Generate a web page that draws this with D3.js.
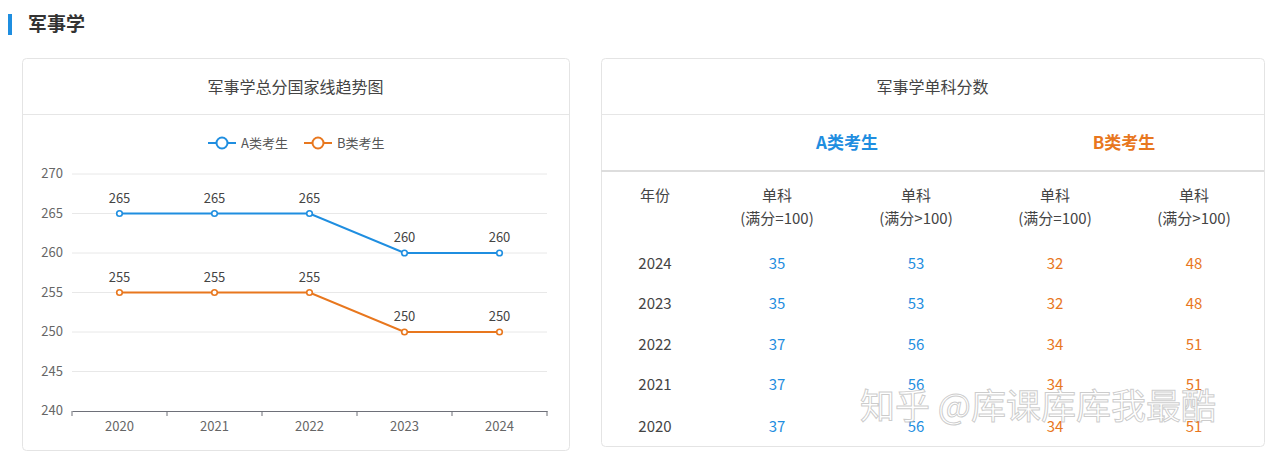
<!DOCTYPE html>
<html><head><meta charset="utf-8">
<script src="https://cdn.jsdelivr.net/npm/d3@7"></script>
<style>body{margin:0;background:#fff;font-family:"Noto Sans CJK SC","Noto Sans",sans-serif;}</style>
</head><body><svg id="c" width="1280" height="458"></svg>
<script>
const years = ["2020","2021","2022","2023","2024"];
const seriesA = [265,265,265,260,260];
const seriesB = [255,255,255,250,250];
const yTicks = [240,245,250,255,260,265,270];
const tableYears = ["2024","2023","2022","2021","2020"];
const aEq100 = [35,35,37,37,37];
const aGt100 = [53,53,56,56,56];
const bEq100 = [32,32,34,34,34];
const bGt100 = [48,48,51,51,51];
const BLUE="#1f8ee0", ORANGE="#e8771e";
const svg=d3.select("#c");
const F='"Noto Sans CJK SC",sans-serif';
svg.append("rect").attr("x",8).attr("y",14).attr("width",4).attr("height",21).attr("fill","#1f8ee0");
svg.append("text").attr("x",28).attr("y",31).text("军事学").attr("font-size",19).attr("font-weight","bold").attr("fill","#333").attr("font-family",F);
function card(x,y,w,h,title){
  svg.append("rect").attr("x",x+.5).attr("y",y+.5).attr("width",w).attr("height",h).attr("rx",4).attr("fill","#fff").attr("stroke","#e4e4e4");
  svg.append("line").attr("x1",x).attr("x2",x+w).attr("y1",114.5).attr("y2",114.5).attr("stroke","#e6e6e6");
  svg.append("text").attr("x",x+w/2).attr("y",93).attr("text-anchor","middle").text(title).attr("font-size",16).attr("fill","#444").attr("font-family",F);
}
card(22,58,547,392,"军事学总分国家线趋势图");
card(601,58,663,388,"军事学单科分数");
const x=d3.scaleBand().domain(years).range([72,547]);
const y=d3.scaleLinear().domain([240,270]).range([411,174]);
const g=svg.append("g");
yTicks.forEach(t=>{
  if(t>240) g.append("line").attr("x1",72).attr("x2",547).attr("y1",y(t)).attr("y2",y(t)).attr("stroke","#e8e8e8");
  g.append("text").attr("x",63).attr("y",y(t)+4).attr("text-anchor","end").text(t).attr("font-size",13).attr("fill","#666").attr("font-family",F);
});
g.append("g").attr("transform","translate(0,411)").call(d3.axisBottom(x).tickSizeOuter(0).tickSize(0)).call(a=>{
  a.select(".domain").attr("stroke","#6e7079");
  a.selectAll("text").attr("font-size",13).attr("fill","#666").attr("font-family",F).attr("dy","1.3em");
});
x.domain().concat([null]).forEach((d,i)=>{const v=i<years.length?x(d):x.range()[1];
  g.append("line").attr("x1",v).attr("x2",v).attr("y1",411).attr("y2",416).attr("stroke","#6e7079");});
function series(vals,col){
  const cx=d=>x(d)+x.bandwidth()/2;
  g.append("path").datum(vals).attr("fill","none").attr("stroke",col).attr("stroke-width",2)
   .attr("d",d3.line().x((d,i)=>cx(years[i])).y(d=>y(d)));
  vals.forEach((v,i)=>{
    g.append("circle").attr("cx",cx(years[i])).attr("cy",y(v)).attr("r",2.8).attr("fill","#fff").attr("stroke",col).attr("stroke-width",1.6);
    g.append("text").attr("x",cx(years[i])).attr("y",y(v)-11).attr("text-anchor","middle").text(v).attr("font-size",13).attr("fill","#444").attr("font-family",F);
  });
}
series(seriesA,BLUE);series(seriesB,ORANGE);
[[208,"A类考生",BLUE],[304,"B类考生",ORANGE]].forEach(([lx,t,c])=>{
  g.append("line").attr("x1",lx).attr("x2",lx+28).attr("y1",143).attr("y2",143).attr("stroke",c).attr("stroke-width",2);
  g.append("circle").attr("cx",lx+14).attr("cy",143).attr("r",5.5).attr("fill","#fff").attr("stroke",c).attr("stroke-width",2);
  g.append("text").attr("x",lx+33).attr("y",148).text(t).attr("font-size",13).attr("fill","#555").attr("font-family",F);
});
svg.append("text").attr("x",847).attr("y",149).attr("text-anchor","middle").text("A类考生").attr("font-size",17).attr("font-weight","bold").attr("fill",BLUE).attr("font-family",F);
svg.append("text").attr("x",1124).attr("y",149).attr("text-anchor","middle").text("B类考生").attr("font-size",17).attr("font-weight","bold").attr("fill",ORANGE).attr("font-family",F);
svg.append("line").attr("x1",601).attr("x2",1264).attr("y1",171).attr("y2",171).attr("stroke","#ddd").attr("stroke-width",2);
const cols=[655,777,916,1055,1194];
const T=(xx,yy,t,c)=>svg.append("text").attr("x",xx).attr("y",yy).attr("text-anchor","middle").text(t).attr("font-size",15).attr("fill",c).attr("font-family",F);
T(cols[0],201,"年份","#444");
["(满分=100)","(满分>100)","(满分=100)","(满分>100)"].forEach((t,i)=>{T(cols[i+1],201,"单科","#444");T(cols[i+1],224,t,"#444");});
const rowsY=[263,303,344,384,426];
tableYears.forEach((yr,i)=>{
  const yy=rowsY[i]+6;
  T(cols[0],yy,yr,"#444");T(cols[1],yy,aEq100[i],BLUE);T(cols[2],yy,aGt100[i],BLUE);
  T(cols[3],yy,bEq100[i],ORANGE);T(cols[4],yy,bGt100[i],ORANGE);
});
svg.append("text").attr("x",860).attr("y",419).text("知乎 @库课库库我最酷").attr("font-size",35).attr("fill","#fff").attr("fill-opacity",0.75).attr("stroke","#999").attr("stroke-opacity",0.5).attr("stroke-width",1).attr("font-family",F);
</script></body></html>
